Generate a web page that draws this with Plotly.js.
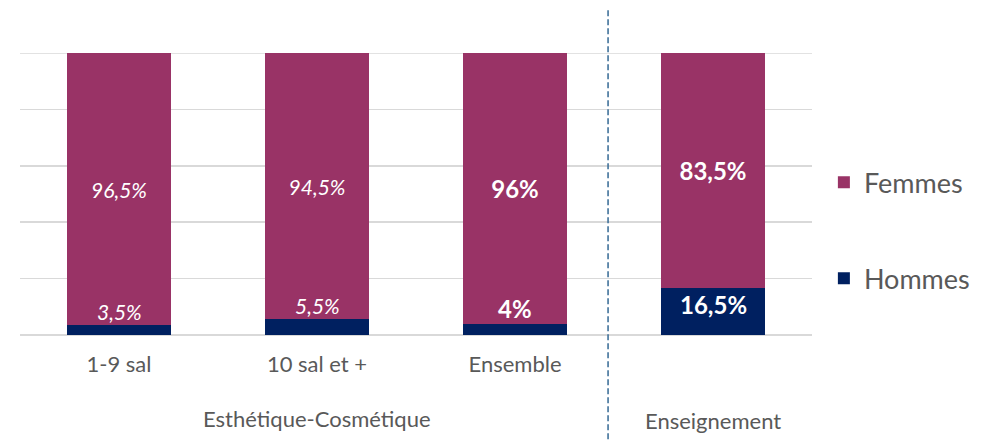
<!DOCTYPE html>
<html>
<head>
<meta charset="utf-8">
<script src="https://cdn.plot.ly/plotly-3.0.1.min.js"></script>
<style>html,body{margin:0;padding:0;background:#fff;}#chart{width:989px;height:446px;}</style>
</head>
<body>
<div id="chart"></div>
<script>
// ---- data ----
const categories = ['1-9 sal', '10 sal et +', 'Ensemble', 'Enseignement'];
const tickLabels = ['1-9 sal', '10 sal et +', 'Ensemble', ''];
const femmes = [96.5, 94.5, 96, 83.5];
const hommes = [3.5, 5.5, 4, 16.5];
const groupLabels = ['Esthétique-Cosmétique', 'Enseignement'];

// ---- styling ----
const FONT = 'Lato, "Open Sans", sans-serif';
const C_F = '#993366';
const C_H = '#002060';
const GREY = '#595959';
const GRID = '#d9d9d9';
const boldCats = ['Ensemble', 'Enseignement'];

function fmt(v) { return String(v).replace('.', ',') + '%'; }
function styled(v, cat) {
  return boldCats.includes(cat) ? '<b>' + fmt(v) + '</b>' : '<i>' + fmt(v) + '</i>';
}

const traceH = {
  type: 'bar', name: 'Hommes', x: categories, y: hommes,
  marker: {color: C_H}, legendgroup: 'h', legendrank: 2,
  hoverinfo: 'none'
};
const traceF = {
  type: 'bar', name: 'Femmes', x: categories, y: femmes,
  marker: {color: C_F}, legendgroup: 'f', legendrank: 1,
  text: femmes.map((v, i) => styled(v, categories[i])),
  textposition: 'inside', insidetextanchor: 'middle', textangle: 0,
  constraintext: 'none',
  textfont: {family: FONT, color: '#ffffff', size: categories.map(c => boldCats.includes(c) ? 24 : 21)},
  hoverinfo: 'none'
};

const annotations = hommes.map((v, i) => {
  const bold = boldCats.includes(categories[i]);
  const fits = v >= 10;
  return {
    x: categories[i], y: v, xref: 'x', yref: 'y',
    text: styled(v, categories[i]), showarrow: false,
    yanchor: fits ? 'top' : 'bottom',
    yshift: fits ? 0 : -1,
    font: {family: FONT, color: '#ffffff', size: bold ? 24 : 21}
  };
});
annotations.push({
  x: 1, y: -0.35, xref: 'x', yref: 'paper', text: groupLabels[0],
  showarrow: false, font: {family: FONT, size: 22, color: GREY}
});
annotations.push({
  x: 3, y: -0.357, xref: 'x', yref: 'paper', text: groupLabels[1],
  showarrow: false, font: {family: FONT, size: 22, color: GREY}
});

const layout = {
  width: 989, height: 446,
  margin: {l: 20, r: 177, t: 53, b: 111},
  paper_bgcolor: '#ffffff', plot_bgcolor: '#ffffff',
  barmode: 'stack', bargap: 0.475,
  font: {family: FONT, color: GREY},
  showlegend: true,
  legend: {
    x: 1.015, xanchor: 'left', y: 0.37, yanchor: 'middle',
    font: {family: FONT, size: 27, color: GREY},
    tracegroupgap: 58, itemwidth: 30, bgcolor: 'rgba(0,0,0,0)'
  },
  xaxis: {
    type: 'category', tickvals: categories, ticktext: tickLabels,
    tickfont: {family: FONT, size: 22, color: GREY},
    ticks: '', showline: false, showgrid: false, zeroline: false,
    ticklabelstandoff: 14, fixedrange: true
  },
  yaxis: {
    range: [0, 100], dtick: 20, showticklabels: false, ticks: '',
    gridcolor: GRID, gridwidth: 1.5, zeroline: true, zerolinecolor: GRID,
    zerolinewidth: 1.8, showline: false, fixedrange: true
  },
  shapes: [
    {
      type: 'line', xref: 'paper', yref: 'y', x0: 0, x1: 1, y0: 100, y1: 100,
      layer: 'below', line: {color: GRID, width: 1.5}
    },
    {
      type: 'line', xref: 'x', yref: 'paper', x0: 2.47, x1: 2.47, y0: -0.37, y1: 1.155,
      line: {color: '#41729b', width: 1.6, dash: '6px,3px'}
    }
  ],
  annotations: annotations
};

Plotly.newPlot('chart', [traceH, traceF], layout, {displayModeBar: false, staticPlot: true});
</script>
</body>
</html>
